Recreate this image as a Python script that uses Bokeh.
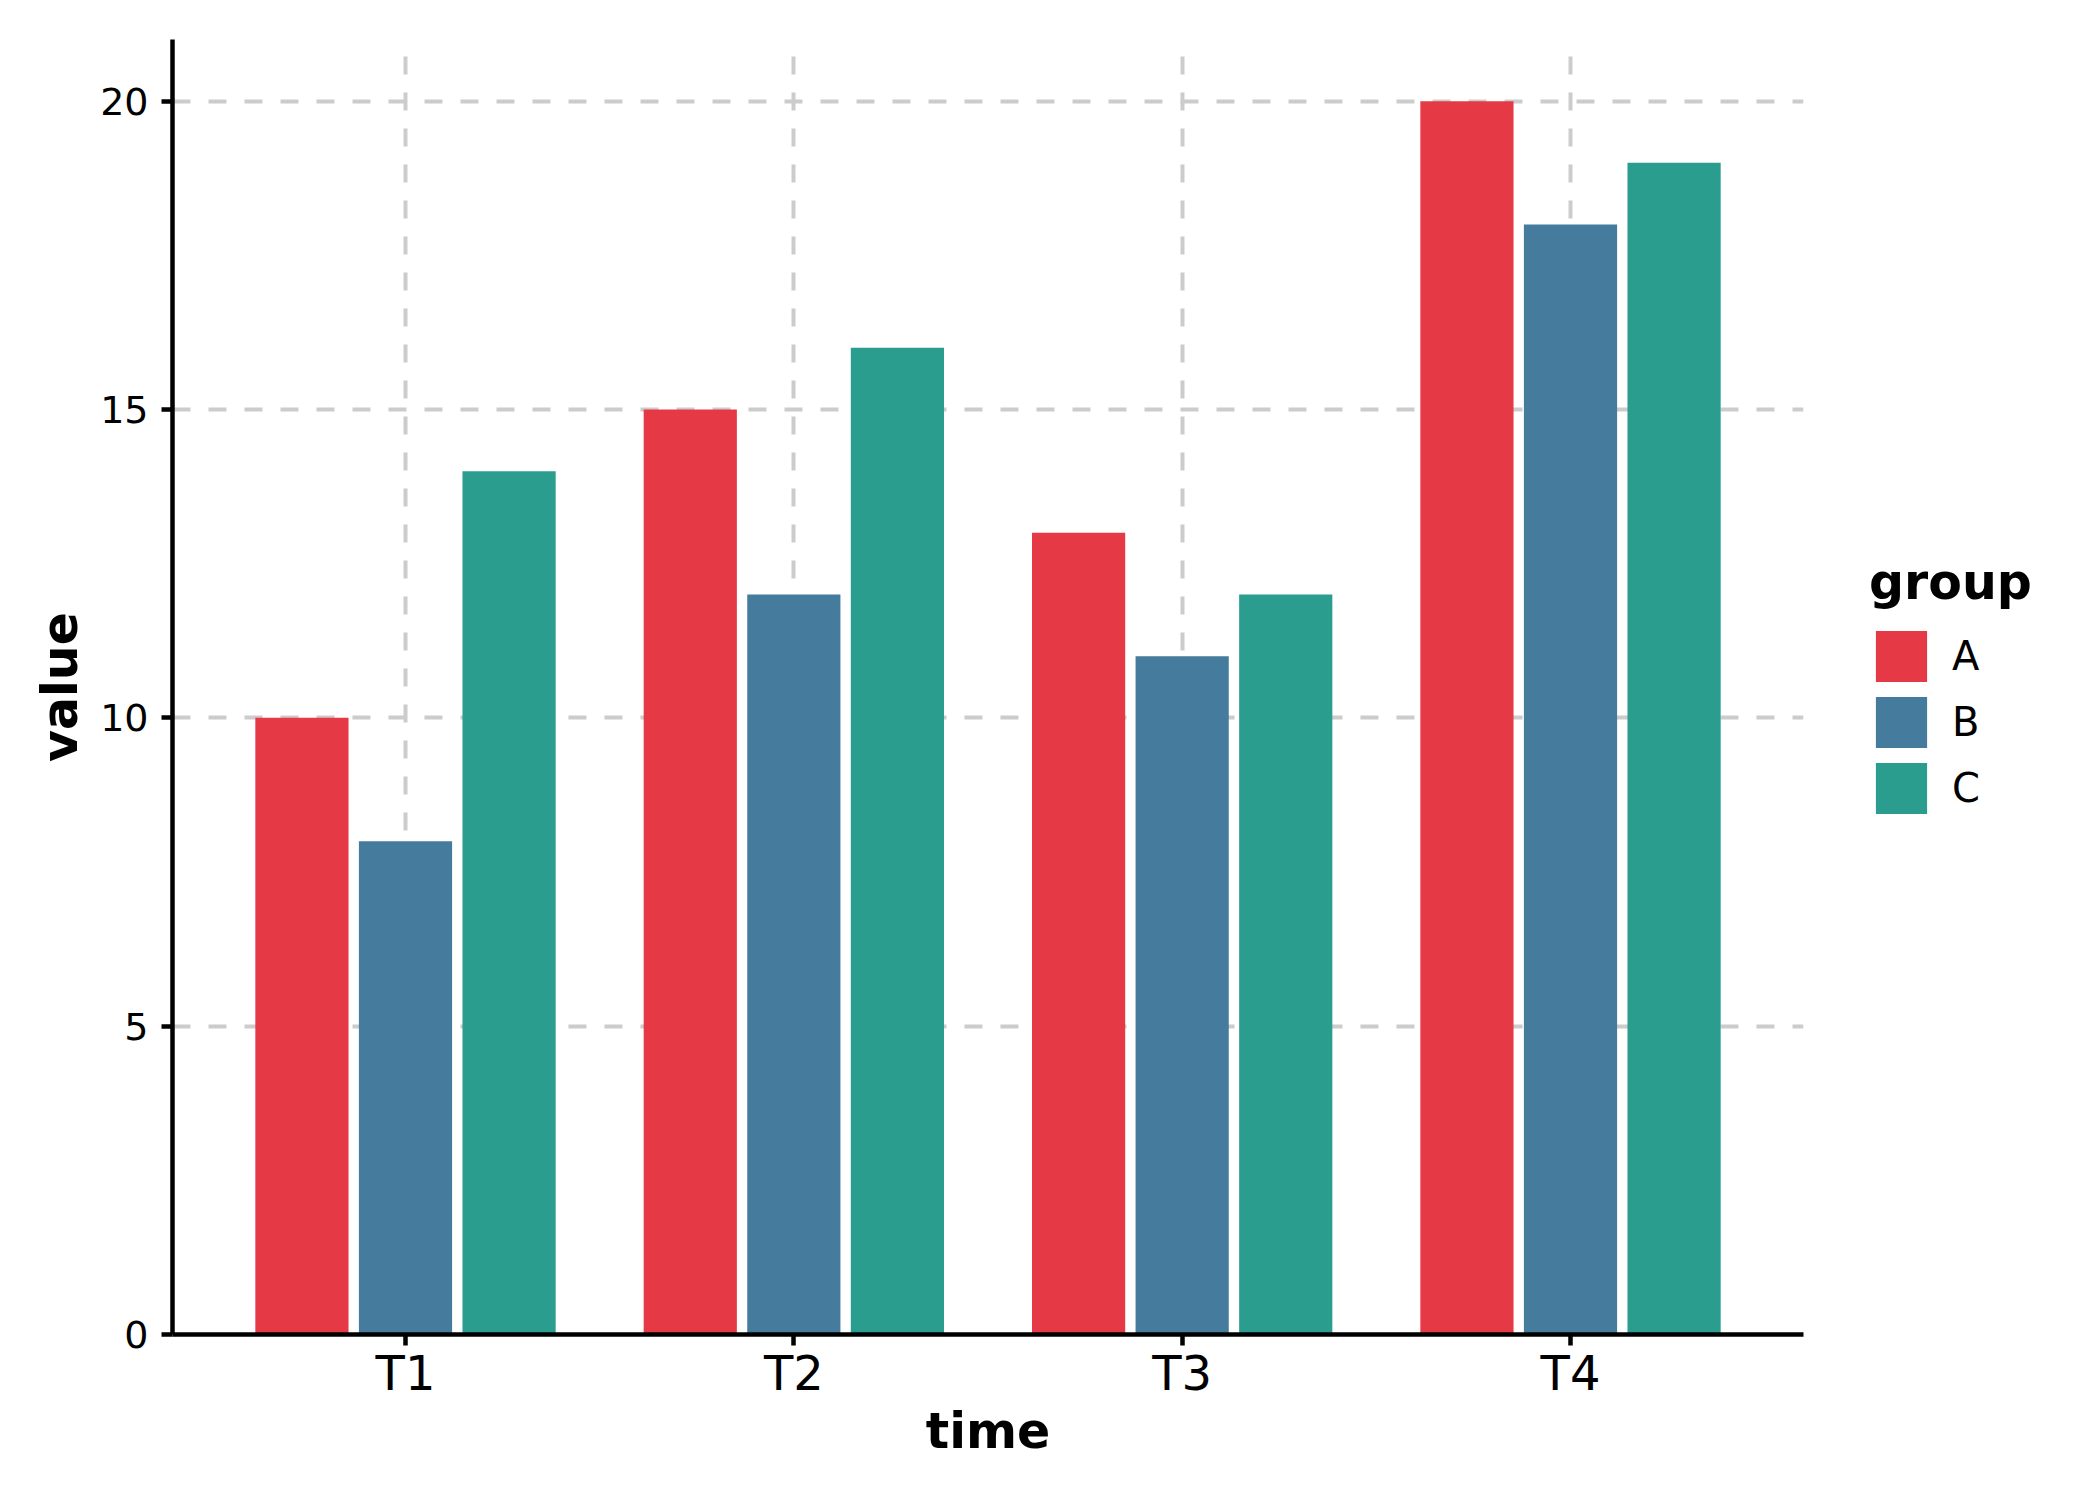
from bokeh.plotting import figure
from bokeh.models import (ColumnDataSource, FactorRange, Range1d, Legend, LegendItem,
                          SingleIntervalTicker)
from bokeh.transform import dodge
from bokeh.embed import file_html
from bokeh.resources import INLINE

times = ["T1", "T2", "T3", "T4"]
groups = ["A", "B", "C"]
values_A = [10, 15, 13, 20]
values_B = [8, 12, 11, 18]
values_C = [14, 16, 12, 19]
colors = ["#E63946", "#457B9D", "#2A9D8F"]

source = ColumnDataSource(data=dict(time=times, A=values_A, B=values_B, C=values_C))

FONT = "DejaVu Sans"

p = figure(
    frame_width=1631, frame_height=1295,
    x_range=FactorRange(factors=times, range_padding=0.1, range_padding_units="absolute"),
    y_range=Range1d(0, 21),
    output_backend="svg", toolbar_location=None,
    min_border_left=172, min_border_right=0, min_border_top=39, min_border_bottom=150,
)
p.outline_line_color = None
p.background_fill_color = "white"

offsets = [-0.2667, 0.0, 0.2667]
renderers = []
for g, off, c in zip(groups, offsets, colors):
    r = p.vbar(x=dodge("time", off, range=p.x_range), top=g, bottom=0, width=0.24,
               source=source, fill_color=c, line_color=None)
    renderers.append(r)

# grids
for grid in (p.xgrid, p.ygrid):
    grid.grid_line_color = "#cccccc"
    grid.grid_line_width = 4
    grid.grid_line_dash = "18 18"

p.yaxis.ticker = SingleIntervalTicker(interval=5, num_minor_ticks=0)

# axes
for ax in (p.xaxis, p.yaxis):
    ax.axis_line_width = 4.5
    ax.axis_line_color = "black"
    ax.major_tick_line_width = 4.5
    ax.major_tick_line_color = "black"
    ax.major_tick_in = 0
    ax.major_tick_out = 11
    ax.minor_tick_line_color = None
    ax.major_label_text_font = FONT
    ax.major_label_text_color = "black"
    ax.axis_label_text_font = FONT
    ax.axis_label_text_font_style = "bold"
    ax.axis_label_text_font_size = "49px"
    ax.axis_label_text_color = "black"

p.xaxis.axis_label = "time"
p.yaxis.axis_label = "value"
p.xaxis.major_label_text_font_size = "48px"
p.yaxis.major_label_text_font_size = "38px"
p.xaxis.major_label_standoff = -1
p.yaxis.major_label_standoff = 13
p.xaxis.axis_label_standoff = -1
p.yaxis.axis_label_standoff = 8

legend = Legend(
    items=[LegendItem(label=g, renderers=[r]) for g, r in zip(groups, renderers)],
    location="center_left",
    title="group",
    title_text_font=FONT, title_text_font_size="49px", title_text_font_style="bold",
    title_text_color="black", title_standoff=13,
    label_text_font=FONT, label_text_font_size="40px", label_text_color="black",
    glyph_width=64, glyph_height=64, label_standoff=19, spacing=2,
    padding=0, margin=66,
    border_line_alpha=0, background_fill_alpha=0,
)
p.add_layout(legend, "right")

open("out.html", "w").write(file_html(p, INLINE))
